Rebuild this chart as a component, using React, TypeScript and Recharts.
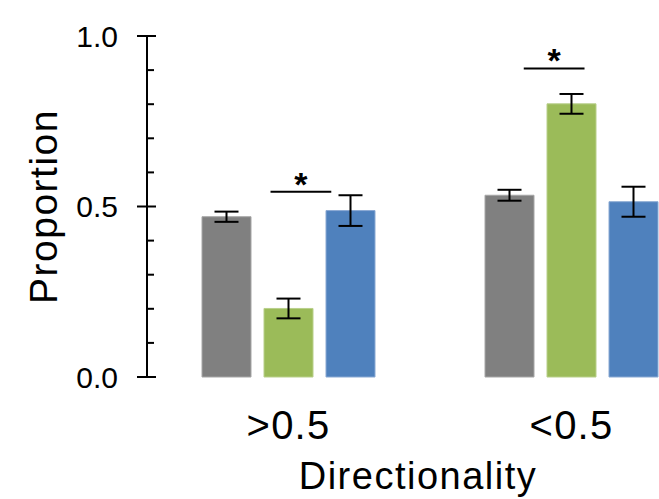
import { BarChart, Bar, XAxis, YAxis, ErrorBar, LabelList } from 'recharts';

const categories = ['>0.5', '<0.5'];
const grayValues = [0.47, 0.533];
const grayErrors = [0.015, 0.016];
const greenValues = [0.201, 0.801];
const greenErrors = [0.029, 0.029];
const blueValues = [0.488, 0.514];
const blueErrors = [0.045, 0.044];

// significance brackets: height on the y scale, span in bar steps counted from the gray bar
const sigLevels = [0.543, 0.905];
const sigFrom = [0.71, 0.23];
const sigTo = [1.69, 1.21];

const yTicks = [0, 0.1, 0.2, 0.3, 0.4, 0.5, 0.6, 0.7, 0.8, 0.9, 1.0];
const majorTicks = [0, 0.5, 1.0];

const data = categories.map((name, i) => ({
    name,
    gray: grayValues[i],
    grayErr: grayErrors[i],
    green: greenValues[i],
    greenErr: greenErrors[i],
    blue: blueValues[i],
    blueErr: blueErrors[i],
}));

const FONT = '"Liberation Sans", Arial, sans-serif';
const BAR_GAP = 13;

const YTick = (props: any) => {
    const { x, y, payload } = props;
    const major = majorTicks.some((t) => Math.abs(t - payload.value) < 1e-6);
    if (!major) {
        return <line x1={x} x2={x + 7} y1={y} y2={y} stroke="#000" strokeWidth={2} />;
    }
    return (
        <g>
            <line x1={x - 10} x2={x + 9} y1={y} y2={y} stroke="#000" strokeWidth={2} />
            <text x={x - 29} y={y} dy="0.36em" textAnchor="end" fontSize={30} fontFamily={FONT} fill="#000">
                {payload.value.toFixed(1)}
            </text>
        </g>
    );
};

const XTick = (props: any) => {
    const { x, y, payload } = props;
    return (
        <text x={x} y={y} dy="0.71em" textAnchor="middle" fontSize={40} fontFamily={FONT} fill="#000" style={{ letterSpacing: 1.2 }}>
            {payload.value}
        </text>
    );
};

const XLabel = (props: any) => {
    const vb = props.viewBox;
    return (
        <text x={vb.x + vb.width / 2 - 12} y={vb.y + vb.height - 10} textAnchor="middle" fontSize={38} fontFamily={FONT} fill="#000" style={{ letterSpacing: 1.5 }}>
            Directionality
        </text>
    );
};

const YLabel = (props: any) => {
    const vb = props.viewBox;
    const cx = vb.x + 43;
    const cy = vb.y + vb.height / 2;
    return (
        <text x={cx} y={cy} dy="0.36em" transform={`rotate(-90 ${cx} ${cy})`} textAnchor="middle" fontSize={39} fontFamily={FONT} fill="#000" style={{ letterSpacing: 1.5 }}>
            Proportion
        </text>
    );
};

const SigMark = (props: any) => {
    const { x, y, width, height, value } = props;
    let i = props.index;
    if (i === undefined) i = greenValues.indexOf(value);
    if (i < 0 || i === undefined) return null;
    const perUnit = height / value;
    const base = y + height;
    const ly = base - sigLevels[i] * perUnit;
    const step = width + BAR_GAP;
    const grayCenter = x + width / 2 - step;
    const x1 = grayCenter + sigFrom[i] * step;
    const x2 = grayCenter + sigTo[i] * step;
    return (
        <g>
            <line x1={x1} x2={x2} y1={ly} y2={ly} stroke="#000" strokeWidth={2} />
            <text x={(x1 + x2) / 2} y={ly + 4} textAnchor="middle" fontSize={34} fontWeight="bold" fontFamily={FONT} fill="#000">
                *
            </text>
        </g>
    );
};

export default function App() {
    return (
        <div style={{ position: 'fixed', left: 0, top: 0, width: 659, height: 499, overflow: 'hidden', background: '#fff' }}>
            <BarChart
                width={713}
                height={499}
                data={data}
                margin={{ top: 36, right: 0, bottom: 0, left: 0 }}
                barGap={BAR_GAP}
                barSize={49}
            >
                <XAxis
                    dataKey="name"
                    axisLine={false}
                    tickLine={false}
                    tickSize={0}
                    tickMargin={34}
                    height={122}
                    tick={<XTick />}
                    label={<XLabel />}
                />
                <YAxis
                    width={147}
                    domain={[0, 1]}
                    ticks={yTicks}
                    interval={0}
                    tickSize={0}
                    tickMargin={0}
                    tickLine={false}
                    axisLine={{ stroke: '#000', strokeWidth: 2 }}
                    tick={<YTick />}
                    label={<YLabel />}
                />
                <Bar dataKey="gray" fill="#808080" stroke="#a6a6a6" strokeWidth={1} isAnimationActive={false}>
                    <ErrorBar dataKey="grayErr" width={12} stroke="#000" strokeWidth={2} />
                </Bar>
                <Bar dataKey="green" fill="#9bbb59" stroke="#b8cf8a" strokeWidth={1} isAnimationActive={false}>
                    <ErrorBar dataKey="greenErr" width={12} stroke="#000" strokeWidth={2} />
                    <LabelList dataKey="green" content={<SigMark />} />
                </Bar>
                <Bar dataKey="blue" fill="#4f81bd" stroke="#8aa9d3" strokeWidth={1} isAnimationActive={false}>
                    <ErrorBar dataKey="blueErr" width={12} stroke="#000" strokeWidth={2} />
                </Bar>
            </BarChart>
        </div>
    );
}
